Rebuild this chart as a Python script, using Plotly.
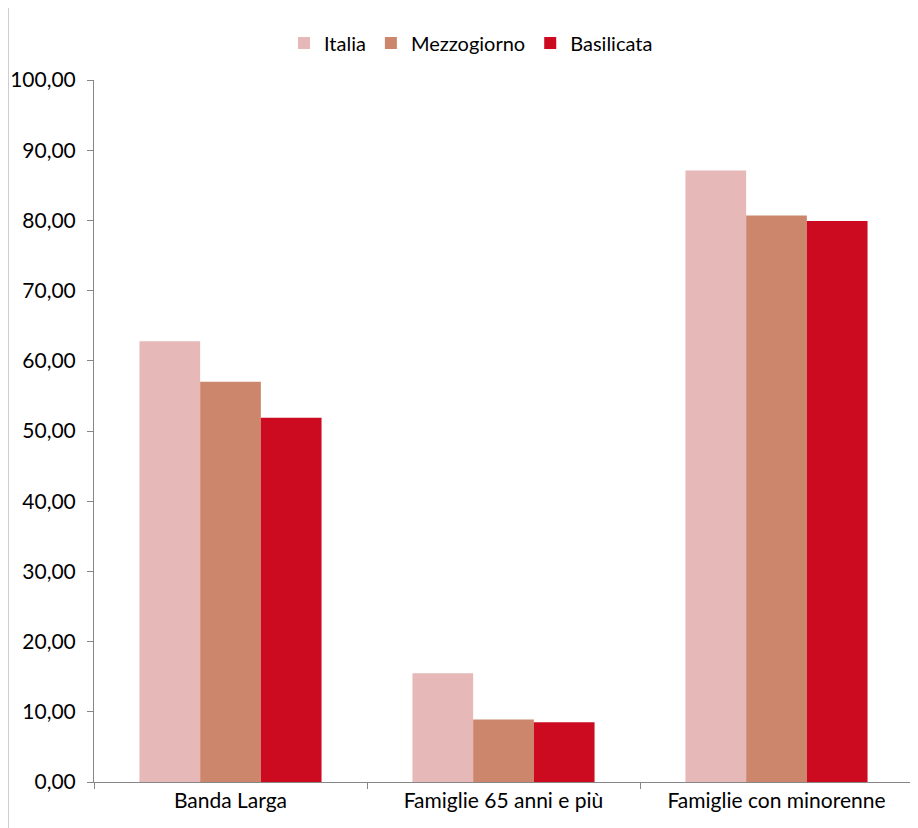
import plotly.graph_objects as go

categories = ["Banda Larga", "Famiglie 65 anni e più", "Famiglie con minorenne"]
italia = [62.8, 15.5, 87.1]
mezzogiorno = [57.0, 8.9, 80.7]
basilicata = [51.9, 8.5, 79.9]
y_ticks = [0, 10, 20, 30, 40, 50, 60, 70, 80, 90, 100]

series = [
    ("Italia", italia, "#E6B8B7"),
    ("Mezzogiorno", mezzogiorno, "#CC866C"),
    ("Basilicata", basilicata, "#CC0A20"),
]

fig = go.Figure()
for name, vals, col in series:
    fig.add_trace(go.Bar(name=name, x=categories, y=vals, marker_color=col,
                         marker_line_width=0))

W, H = 910, 820
font = "Lato, Liberation Sans, sans-serif"
fig.update_layout(
    width=W, height=H,
    margin=dict(l=86, r=5, t=72, b=46, autoexpand=False),
    paper_bgcolor="white", plot_bgcolor="white",
    separators=",.",
    barmode="group", bargap=0.333, bargroupgap=0,
    font=dict(family=font, size=21, color="black"),
    legend=dict(orientation="h", x=463 / W, xref="container", xanchor="center",
                y=1 - 35 / H, yref="container", yanchor="middle",
                font=dict(size=20), itemwidth=30, traceorder="normal"),
    showlegend=True,
)
fig.update_yaxes(range=[0, 100], tickvals=y_ticks, tickformat=".2f", automargin=False,
                 showgrid=False, zeroline=False, showline=True, linecolor="#868686",
                 linewidth=1, ticks="outside", ticklen=6, tickcolor="#868686",
                 ticklabelstandoff=7, tickfont=dict(size=21))
fig.update_xaxes(showgrid=False, showline=True, linecolor="#868686", linewidth=1,
                 automargin=False,
                 ticks="outside", tickson="boundaries", ticklen=6, tickcolor="#868686",
                 tickfont=dict(size=21))
fig.add_shape(type="line", xref="paper", yref="paper", x0=-86 / 819, x1=-86 / 819,
              y0=-0.066, y1=1.114, line=dict(color="#A0A0A0", width=1))
fig.write_html("out.html")
